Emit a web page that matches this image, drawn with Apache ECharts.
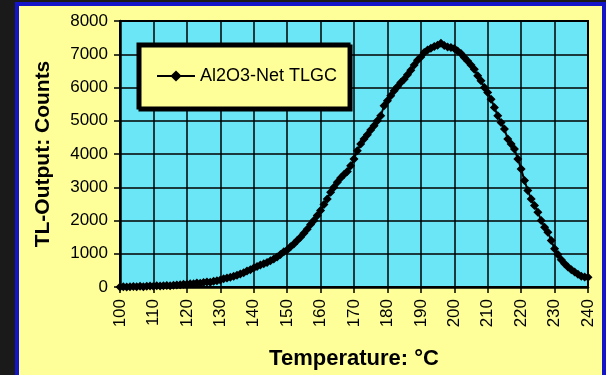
<!DOCTYPE html>
<html>
<head>
<meta charset="utf-8">
<title>TL Glow Curve</title>
<script src="https://cdn.jsdelivr.net/npm/echarts@6/dist/echarts.min.js"></script>
<style>
    html, body { margin: 0; padding: 0; background: #1a1a1a; }
    #tlChart { width: 606px; height: 375px; }
</style>
</head>
<body>
<div id="tlChart"></div>
<script>
    // temperature (°C), one reading per degree
    var temps = [];
    for (var t = 100; t <= 240; t++) temps.push(t);

    // TL output counts, 100..240 °C
    var counts = [
        0, 10, 0, 5, 15, 10, 20, 10, 25, 30,            // 100-109
        20, 35, 30, 40, 45, 35, 55, 60, 70, 85,         // 110-119
        80, 100, 95, 120, 110, 135, 150, 140, 175, 190, // 120-129
        210, 250, 270, 290, 320, 350, 390, 430, 480, 520,     // 130-139
        570, 620, 660, 700, 740, 790, 840, 900, 980, 1060,    // 140-149
        1110, 1210, 1290, 1400, 1500, 1620, 1740, 1880, 2000, 2150, // 150-159
        2300, 2480, 2650, 2850, 3000, 3150, 3280, 3380, 3470, 3650, // 160-169
        3850, 4100, 4300, 4450, 4580, 4720, 4850, 5000, 5150, 5450, // 170-179
        5600, 5750, 5900, 6020, 6150, 6250, 6380, 6520, 6680, 6820, // 180-189
        6920, 7050, 7130, 7180, 7230, 7270, 7330, 7260, 7220, 7200, // 190-199
        7170, 7100, 7020, 6900, 6800, 6680, 6550, 6350, 6200, 6000, // 200-209
        5850, 5650, 5400, 5150, 4950, 4750, 4450, 4300, 4150, 3850, // 210-219
        3550, 3200, 2900, 2650, 2450, 2250, 2000, 1800, 1650, 1400, // 220-229
        1150, 980, 820, 700, 600, 520, 450, 380, 320, 300,          // 230-239
        290                                                          // 240
    ];

    var seriesName = 'Al2O3-Net TLGC';
    var fontFamily = '"Liberation Sans", Arial, sans-serif';

    var chart = echarts.init(document.getElementById('tlChart'));

    var option = {
        animation: false,
        backgroundColor: '#1a1a1a',
        // blue frame + yellow panel behind the chart
        graphic: [
            { type: 'rect', z: -10, shape: { x: 15, y: 2, width: 591, height: 373 }, style: { fill: '#1414c8' } },
            { type: 'rect', z: -9, shape: { x: 19, y: 6, width: 583, height: 369 }, style: { fill: '#FFFF99' } }
        ],
        grid: {
            left: 120,
            right: 18,
            top: 21,
            bottom: 87,
            show: true,
            backgroundColor: '#6BE6F7',
            borderColor: '#000',
            borderWidth: 2
        },
        legend: {
            data: [seriesName],
            left: 138,
            top: 44,
            orient: 'vertical',
            padding: [23, 12, 23, 18],
            itemWidth: 38,
            itemHeight: 14,
            backgroundColor: '#FFFF99',
            borderColor: '#000',
            borderWidth: 3,
            shadowColor: '#000',
            shadowOffsetX: 2,
            shadowOffsetY: 2,
            shadowBlur: 0,
            textStyle: {
                color: '#000',
                fontSize: 18,
                fontFamily: fontFamily
            }
        },
        xAxis: {
            type: 'value',
            min: 100,
            max: 240,
            interval: 10,
            name: 'Temperature: °C',
            nameLocation: 'middle',
            nameGap: 61,
            nameTextStyle: {
                color: '#000',
                fontSize: 22,
                fontWeight: 'bold',
                fontFamily: fontFamily
            },
            axisLine: { lineStyle: { color: '#000', width: 2.5 } },
            axisTick: { show: true, length: 6, lineStyle: { color: '#000', width: 1.5 } },
            axisLabel: {
                rotate: 90,
                margin: 12,
                color: '#000',
                fontSize: 17,
                fontFamily: fontFamily
            },
            splitLine: { show: true, lineStyle: { color: '#000', width: 1.5 } }
        },
        yAxis: {
            type: 'value',
            min: 0,
            max: 8000,
            interval: 1000,
            name: 'TL-Output: Counts',
            nameLocation: 'middle',
            nameGap: 66,
            nameTextStyle: {
                color: '#000',
                fontSize: 21,
                fontWeight: 'bold',
                fontFamily: fontFamily
            },
            axisLine: { show: true, lineStyle: { color: '#000', width: 2.5 } },
            axisTick: { show: true, length: 6, lineStyle: { color: '#000', width: 1.5 } },
            axisLabel: {
                margin: 12,
                color: '#000',
                fontSize: 17,
                fontFamily: fontFamily,
                formatter: function (v) { return String(v); }
            },
            splitLine: { show: true, lineStyle: { color: '#000', width: 1.5 } }
        },
        series: [
            {
                name: seriesName,
                type: 'line',
                data: temps.map(function (t, i) { return [t, counts[i]]; }),
                symbol: 'diamond',
                symbolSize: 9,
                showAllSymbol: true,
                itemStyle: { color: '#000' },
                lineStyle: { color: '#000', width: 2 }
            }
        ]
    };

    chart.setOption(option);
    window.addEventListener('resize', function () { chart.resize(); });
</script>
</body>
</html>
